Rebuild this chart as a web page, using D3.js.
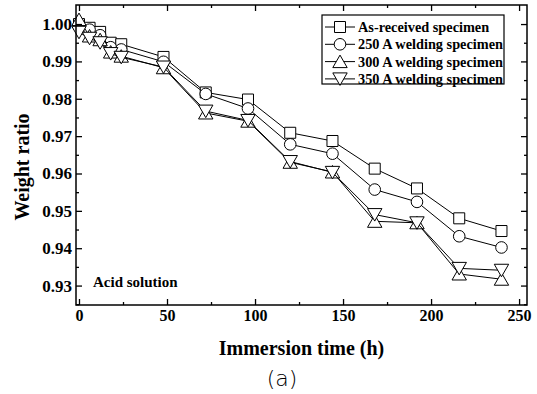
<!DOCTYPE html>
<html>
<head>
<meta charset="utf-8">
<script src="https://cdn.jsdelivr.net/npm/d3@7/dist/d3.min.js"></script>
<style>
  html, body { margin: 0; padding: 0; background: #fff; }
  svg { display: block; }
  .serif { font-family: "Liberation Serif", "Times New Roman", serif; font-weight: bold; fill: #000; }
</style>
</head>
<body>
<svg id="chart" width="537" height="394"></svg>
<script>
// Immersion times (h)
const times = [0, 6, 12, 18, 24, 48, 72, 96, 120, 144, 168, 192, 216, 240];

// Weight ratio for each specimen
const asReceived = [1.0000, 0.9990, 0.9979, 0.9950, 0.9946, 0.9912, 0.9817, 0.9798, 0.9709, 0.9687, 0.9613, 0.9560, 0.9480, 0.9446];
const weld250    = [0.9995, 0.9985, 0.9970, 0.9938, 0.9932, 0.9899, 0.9813, 0.9774, 0.9678, 0.9653, 0.9557, 0.9524, 0.9432, 0.9402];
const weld300    = [1.0012, 0.9968, 0.9958, 0.9925, 0.9914, 0.9883, 0.9762, 0.9740, 0.9630, 0.9604, 0.9472, 0.9468, 0.9331, 0.9317];
const weld350    = [0.9978, 0.9962, 0.9950, 0.9921, 0.9911, 0.9885, 0.9767, 0.9742, 0.9632, 0.9603, 0.9490, 0.9468, 0.9346, 0.9341];

const seriesNames = ["As-received specimen", "250 A welding specimen", "300 A welding specimen", "350 A welding specimen"];
const seriesShapes = ["square", "circle", "triangleUp", "triangleDown"];

const xTicks = [0, 50, 100, 150, 200, 250];
const xMinorTicks = [25, 75, 125, 175, 225];
const yTicks = [0.93, 0.94, 0.95, 0.96, 0.97, 0.98, 0.99, 1.00];
const yMinorTicks = [0.925, 0.935, 0.945, 0.955, 0.965, 0.975, 0.985, 0.995];

const series = [asReceived, weld250, weld300, weld350].map((vals, i) => ({
  name: seriesNames[i],
  shape: seriesShapes[i],
  points: times.map((t, j) => ({ t, v: vals[j] }))
}));

const svg = d3.select("#chart");
const plotL = 76, plotR = 527, plotT = 5, plotB = 305;

const x = d3.scaleLinear().domain([-1.7, 254.5]).range([plotL, plotR]);
const y = d3.scaleLinear().domain([0.9248, 1.0051]).range([plotB, plotT]);

// marker path generator, centred on (0,0)
function markerPath(shape) {
  const p = d3.path();
  if (shape === "square") {
    p.rect(-5.5, -5.5, 11, 11);
  } else if (shape === "circle") {
    p.arc(0, 0, 5.8, 0, 2 * Math.PI);
  } else if (shape === "triangleUp") {
    p.moveTo(0, -6.5); p.lineTo(7.2, 6); p.lineTo(-7.2, 6); p.closePath();
  } else {
    p.moveTo(0, 6.5); p.lineTo(7.2, -6); p.lineTo(-7.2, -6); p.closePath();
  }
  return p.toString();
}

// series lines and markers
const line = d3.line().x(d => x(d.t)).y(d => y(d.v));
series.forEach(s => {
  const g = svg.append("g");
  g.append("path")
    .attr("d", line(s.points))
    .attr("fill", "none")
    .attr("stroke", "#000")
    .attr("stroke-width", 1);
  g.selectAll("path.m")
    .data(s.points)
    .join("path")
    .attr("class", "m")
    .attr("d", markerPath(s.shape))
    .attr("transform", d => `translate(${x(d.t)},${y(d.v)})`)
    .attr("fill", "#fff")
    .attr("stroke", "#000")
    .attr("stroke-width", 1);
});

// axes with inward ticks on all four sides
function styleAxis(g) {
  g.selectAll(".domain").remove();
  g.selectAll(".tick line").attr("stroke", "#000").attr("stroke-width", 1.3);
}
// major ticks
svg.append("g").attr("transform", `translate(0,${plotB})`)
  .call(d3.axisBottom(x).tickValues(xTicks).tickSize(-6).tickFormat(d3.format("d")))
  .call(styleAxis)
  .call(g => g.selectAll("text").attr("class", "serif").style("font-size", "16px").attr("y", 5).attr("dy", "0.71em"));
svg.append("g").attr("transform", `translate(0,${plotT})`)
  .call(d3.axisTop(x).tickValues(xTicks).tickSize(-6).tickFormat(""))
  .call(styleAxis);
svg.append("g").attr("transform", `translate(${plotL},0)`)
  .call(d3.axisLeft(y).tickValues(yTicks).tickSize(-6).tickFormat(d3.format(".2f")))
  .call(styleAxis)
  .call(g => g.selectAll("text").attr("class", "serif").style("font-size", "17px").attr("x", -4));
svg.append("g").attr("transform", `translate(${plotR},0)`)
  .call(d3.axisRight(y).tickValues(yTicks).tickSize(-6).tickFormat(""))
  .call(styleAxis);
// minor ticks
svg.append("g").attr("transform", `translate(0,${plotB})`)
  .call(d3.axisBottom(x).tickValues(xMinorTicks).tickSize(-3).tickFormat(""))
  .call(styleAxis);
svg.append("g").attr("transform", `translate(0,${plotT})`)
  .call(d3.axisTop(x).tickValues(xMinorTicks).tickSize(-3).tickFormat(""))
  .call(styleAxis);
svg.append("g").attr("transform", `translate(${plotL},0)`)
  .call(d3.axisLeft(y).tickValues(yMinorTicks).tickSize(-3).tickFormat(""))
  .call(styleAxis);
svg.append("g").attr("transform", `translate(${plotR},0)`)
  .call(d3.axisRight(y).tickValues(yMinorTicks).tickSize(-3).tickFormat(""))
  .call(styleAxis);

// frame
svg.append("rect")
  .attr("x", plotL).attr("y", plotT)
  .attr("width", plotR - plotL).attr("height", plotB - plotT)
  .attr("fill", "none").attr("stroke", "#000").attr("stroke-width", 1.5);

// axis titles
svg.append("text").attr("class", "serif")
  .attr("x", (plotL + plotR) / 2).attr("y", 355)
  .attr("text-anchor", "middle").style("font-size", "20px")
  .text("Immersion time (h)");
svg.append("text").attr("class", "serif")
  .attr("transform", `translate(29,${(plotT + plotB) / 2 + 12}) rotate(-90)`)
  .attr("text-anchor", "middle").style("font-size", "20px")
  .text("Weight ratio");

// annotation
svg.append("text").attr("class", "serif")
  .attr("x", 93).attr("y", 287).style("font-size", "15px")
  .text("Acid solution");

// panel label
svg.append("text")
  .attr("x", 282).attr("y", 386)
  .attr("text-anchor", "middle")
  .style("font-family", "'DejaVu Sans', sans-serif")
  .style("font-weight", "300")
  .style("font-size", "22px")
  .attr("fill", "#000")
  .text("(a)");

// legend
const legend = svg.append("g");
legend.append("rect")
  .attr("x", 322).attr("y", 15).attr("width", 182).attr("height", 69)
  .attr("fill", "#fff").attr("stroke", "#000").attr("stroke-width", 1.2);
series.forEach((s, i) => {
  const cy = 27 + i * 17.3;
  legend.append("line")
    .attr("x1", 325).attr("x2", 355).attr("y1", cy).attr("y2", cy)
    .attr("stroke", "#000").attr("stroke-width", 1);
  legend.append("path")
    .attr("d", markerPath(s.shape))
    .attr("transform", `translate(340,${cy})`)
    .attr("fill", "#fff").attr("stroke", "#000").attr("stroke-width", 1);
  legend.append("text").attr("class", "serif")
    .attr("x", 358).attr("y", cy + 5)
    .style("font-size", "14.3px")
    .text(s.name);
});
</script>
</body>
</html>
